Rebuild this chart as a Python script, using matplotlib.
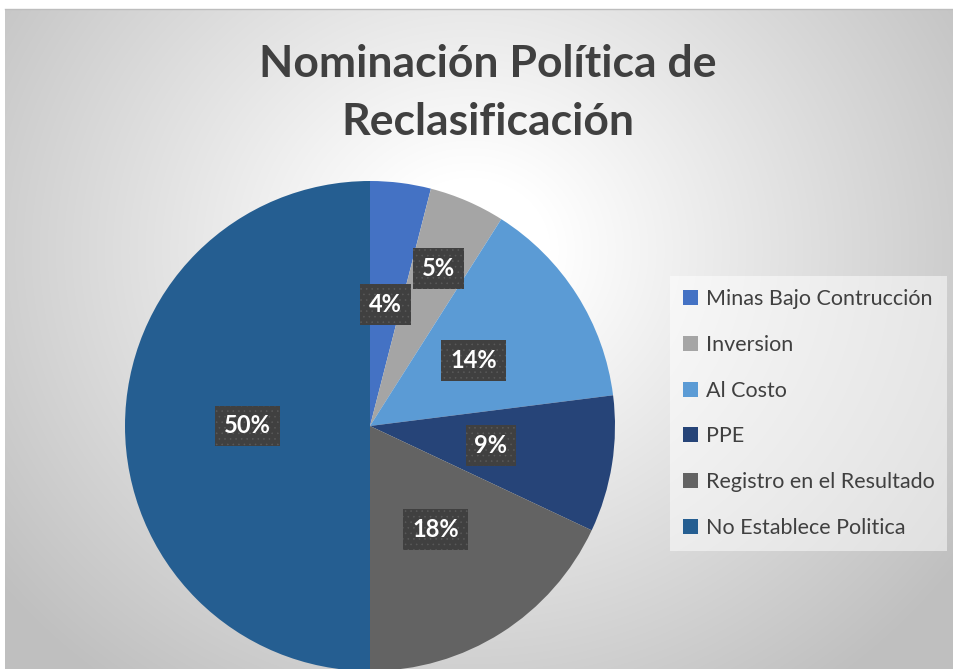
import numpy as np
import matplotlib.pyplot as plt

# data
categorias = ['Minas Bajo Contrucción', 'Inversion', 'Al Costo', 'PPE',
              'Registro en el Resultado', 'No Establece Politica']
valores = [4, 5, 14, 9, 18, 50]
colores = ['#4472C4', '#A5A5A5', '#5B9BD5', '#264478', '#636363', '#255E91']
titulo = 'Nominación Política de\nReclasificación'

plt.rcParams['hatch.linewidth'] = 0.4

W, H = 954, 669
fig = plt.figure(figsize=(W / 100, H / 100), dpi=100)
fig.patch.set_facecolor('white')

# background with radial gradient
bg = fig.add_axes([5 / W, 0, (W - 5) / W, (H - 9) / H])
yy, xx = np.mgrid[9:H, 5:W]
r = np.hypot(xx - 470, (yy - 250) * 1.1)
t = np.clip((r - 80) / 520, 0, 1)
g = 1 - 0.25 * t
bg.imshow(np.dstack([g, g, g]), extent=[0, 1, 0, 1], aspect='auto', origin='upper')
bg.set_xlim(0, 1)
bg.set_ylim(0, 1)
bg.axis('off')
fig.add_artist(plt.Line2D([5 / W, 1], [(H - 9) / H] * 2, color='#bdbdbd', lw=1))

# title
fig.text(488 / W, 1 - 93 / H, titulo, ha='center', va='center', fontsize=32,
         fontweight='bold', color='#404040', family='Lato', linespacing=1.55)

# pie
cx, cy, rad = 370, 426, 245
ax = fig.add_axes([(cx - rad) / W, (H - cy - rad) / H, 2 * rad / W, 2 * rad / H])
wedges, texts, autotexts = ax.pie(
    valores, colors=colores, startangle=90, counterclock=False,
    autopct='%1.0f%%', pctdistance=0.5,
    wedgeprops=dict(linewidth=0))
ax.set_xlim(-1, 1)
ax.set_ylim(-1, 1)
ax.set_aspect('equal')

for i, at in enumerate(autotexts):
    at.set_color('white')
    at.set_fontsize(17)
    at.set_fontweight('bold')
    at.set_family('Lato')
    at.set_bbox(dict(boxstyle='square,pad=0.38', facecolor='#404040',
                     edgecolor='#5a5a5a', linewidth=0, hatch='...'))
    if categorias[i] == 'Inversion':
        x, y = at.get_position()
        at.set_position((x * 1.4, y * 1.4))

# legend
leg = fig.legend(wedges, categorias, loc='upper left',
                 bbox_to_anchor=(670 / W, 1 - 276 / H), borderaxespad=0,
                 prop=dict(family='Lato', size=15.5), labelcolor='#404040',
                 frameon=True, fancybox=False, facecolor='white', framealpha=0.5,
                 edgecolor='none', handlelength=0.7, handleheight=0.7,
                 handletextpad=0.35, labelspacing=1.2, borderpad=0.6)

fig.savefig('out.png', dpi=100)
